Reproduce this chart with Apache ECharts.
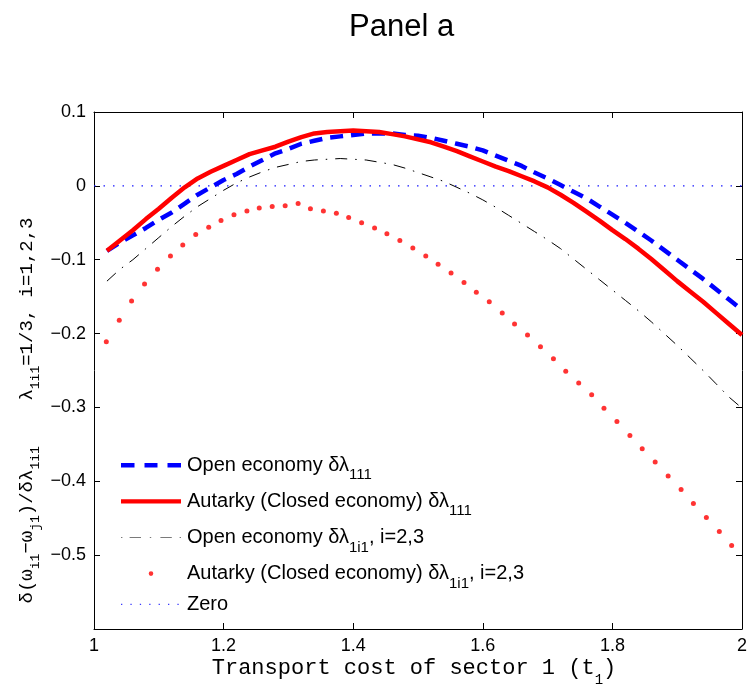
<!DOCTYPE html>
<html><head><meta charset="utf-8">
<script src="https://cdn.jsdelivr.net/npm/echarts@6/dist/echarts.min.js"></script>
<style>html,body{margin:0;padding:0;background:#fff}#c{width:748px;height:688px}</style>
</head><body><div id="c"></div><script>
// Transport cost grid for the line series
const xLine = [1.02,1.04,1.06,1.08,1.10,1.12,1.14,1.16,1.18,1.20,1.22,1.24,1.26,1.28,1.30,1.32,1.34,1.36,1.38,1.40,
  1.42,1.44,1.46,1.48,1.50,1.52,1.54,1.56,1.58,1.60,1.62,1.64,1.66,1.68,1.70,1.72,1.74,1.76,1.78,1.80,
  1.82,1.84,1.86,1.88,1.90,1.92,1.94,1.96,1.98,2.00];
// Open economy dλ111 (blue dashed)
const openOwn = [-0.088,-0.077,-0.067,-0.057,-0.046,-0.036,-0.024,-0.012,-0.002,0.008,0.016,0.026,0.035,0.044,0.050,0.057,0.061,0.065,0.067,0.069,
  0.071,0.071,0.071,0.069,0.068,0.065,0.061,0.057,0.053,0.048,0.041,0.034,0.027,0.018,0.010,0.001,-0.008,-0.017,-0.028,-0.039,
  -0.050,-0.062,-0.074,-0.087,-0.100,-0.113,-0.126,-0.140,-0.154,-0.168];
// Autarky dλ111 (red solid)
const autarkyOwn = [-0.088,-0.074,-0.060,-0.045,-0.031,-0.016,-0.002,0.010,0.019,0.027,0.035,0.043,0.048,0.053,0.060,0.066,0.071,0.073,0.074,0.075,
  0.074,0.073,0.070,0.067,0.063,0.059,0.053,0.047,0.040,0.033,0.026,0.020,0.013,0.006,-0.002,-0.012,-0.023,-0.035,-0.047,-0.060,
  -0.072,-0.085,-0.099,-0.114,-0.129,-0.143,-0.157,-0.172,-0.187,-0.202];
// Open economy dλ1i1, i=2,3 (black dash-dot)
const openOther = [-0.129,-0.113,-0.100,-0.085,-0.070,-0.055,-0.041,-0.028,-0.017,-0.006,0.004,0.012,0.019,0.025,0.029,0.033,0.035,0.036,0.037,0.036,
  0.035,0.032,0.029,0.024,0.018,0.012,0.006,-0.002,-0.010,-0.019,-0.029,-0.040,-0.051,-0.062,-0.073,-0.085,-0.099,-0.113,-0.127,-0.141,
  -0.155,-0.169,-0.184,-0.200,-0.216,-0.233,-0.250,-0.268,-0.286,-0.301];
// Autarky dλ1i1, i=2,3 (red dots) - own grid
const xDots = [1.019,1.039,1.058,1.078,1.098,1.118,1.137,1.157,1.177,1.196,1.216,1.236,1.255,1.275,1.295,1.315,1.334,1.354,1.374,1.393,
  1.413,1.433,1.452,1.472,1.492,1.512,1.531,1.551,1.571,1.590,1.610,1.630,1.649,1.669,1.689,1.709,1.728,1.748,1.768,1.787,
  1.807,1.827,1.846,1.866,1.886,1.906,1.925,1.945,1.965,1.984];
const autarkyOther = [-0.211,-0.182,-0.156,-0.133,-0.113,-0.095,-0.080,-0.066,-0.056,-0.047,-0.039,-0.034,-0.030,-0.028,-0.027,-0.024,-0.031,-0.034,-0.037,-0.043,
  -0.050,-0.057,-0.065,-0.074,-0.084,-0.095,-0.106,-0.118,-0.131,-0.144,-0.157,-0.172,-0.187,-0.202,-0.218,-0.234,-0.251,-0.267,-0.283,-0.301,
  -0.319,-0.338,-0.356,-0.374,-0.393,-0.411,-0.430,-0.449,-0.468,-0.487];
// Zero reference line
const zeroX = [1, 2];
const zeroY = [0, 0];

const seriesNames = ['Open economy δλ111', 'Autarky (Closed economy) δλ111', 'Open economy δλ1i1, i=2,3', 'Autarky (Closed economy) δλ1i1, i=2,3', 'Zero'];
const legendRich = {
  'Open economy δλ111': 'Open economy δλ{s|111}',
  'Autarky (Closed economy) δλ111': 'Autarky (Closed economy) δλ{s|111}',
  'Open economy δλ1i1, i=2,3': 'Open economy δλ{s|1i1}, i=2,3',
  'Autarky (Closed economy) δλ1i1, i=2,3': 'Autarky (Closed economy) δλ{s|1i1}, i=2,3',
  'Zero': 'Zero'
};
const titleText = 'Panel a';
const xName = 'Transport cost of sector 1 (t{s|1})';
const yName = 'δ(ω{s|i1}−ω{s|j1})/δλ{s|1i1}    λ{s|1i1}=1/3, i=1,2,3';

const SANS = '"Liberation Sans", Arial, Helvetica, sans-serif';
const MONO = '"Liberation Mono", "Courier New", monospace';
const pair = (xs, ys) => xs.map((x, i) => [x, ys[i]]);

const SPECK = 'M0,0h0.05v0.05h-0.05z M59.95,13.95h0.05v0.05h-0.05z ';
const icons = [
  'path://' + SPECK + 'M0,5h13.5v4.4h-13.5z M23.5,5h13v4.4h-13z M46.5,5h13.5v4.4h-13.5z',
  'path://' + SPECK + 'M0,5h60v4.4h-60z',
  'path://' + SPECK + 'M0,6.5h1.4v1h-1.4z M8.6,6.5h11.4v1h-11.4z M28.8,6.5h1.4v1h-1.4z M39.4,6.5h11.4v1h-11.4z M58.6,6.5h1.4v1h-1.4z',
  'path://' + SPECK + 'M32.3,7A2.3,2.3 0 1 1 27.7,7A2.3,2.3 0 1 1 32.3,7z',
  'path://' + SPECK + 'M0,6.4h1.3v1.3h-1.3z M9.4,6.4h1.3v1.3h-1.3z M18.8,6.4h1.3v1.3h-1.3z M28.2,6.4h1.3v1.3h-1.3z M37.6,6.4h1.3v1.3h-1.3z M47,6.4h1.3v1.3h-1.3z M56.4,6.4h1.3v1.3h-1.3z'
];

const fmtNum = v => {
  const s = String(+Math.abs(v).toFixed(1));
  return v < -1e-9 ? '\u2212' + s : s;
};

const axisCommon = {
  axisLine: { show: true, onZero: false, lineStyle: { color: '#000', width: 1 } },
  axisTick: { show: true, inside: true, length: 6, lineStyle: { color: '#000', width: 1 } },
  splitLine: { show: false }
};

const chart = echarts.init(document.getElementById('c'));
chart.setOption({
  animation: false,
  backgroundColor: '#fff',
  title: {
    text: titleText, left: 349, top: 11.5, padding: 0,
    textStyle: { fontFamily: SANS, fontSize: 31, fontWeight: 'normal', color: '#000' }
  },
  grid: { left: 94, right: 6, top: 112, bottom: 59, containLabel: false, outerBoundsMode: 'none' },
  legend: {
    orient: 'vertical', left: 121, top: 447.5, padding: 0,
    itemWidth: 60, itemHeight: 14, itemGap: 1.2,
    selectedMode: false,
    itemStyle: { borderWidth: 0 },
    data: seriesNames.map((n, i) => ({ name: n, icon: icons[i], itemStyle: i === 2 ? { color: '#7a7a7a' } : (i === 4 ? { color: '#3a3aff' } : undefined) })),
    formatter: n => legendRich[n],
    textStyle: {
      fontFamily: SANS, fontSize: 20, color: '#000', lineHeight: 24, padding: [0, 0, 0, 1],
      rich: { s: { fontFamily: SANS, fontSize: 15, lineHeight: 24, padding: [20, 0, 0, 0], color: '#000' } }
    }
  },
  xAxis: [
    Object.assign({}, axisCommon, {
      type: 'value', position: 'bottom', min: 1, max: 2, interval: 0.2,
      axisLabel: { margin: 8, color: '#000', fontFamily: SANS, fontSize: 18, formatter: fmtNum },
      name: xName, nameLocation: 'middle', nameGap: 27, nameMoveOverlap: false,
      nameTextStyle: {
        fontFamily: MONO, fontSize: 22, color: '#000', lineHeight: 24, padding: [0, 8, 0, 0],
        rich: { s: { fontFamily: MONO, fontSize: 14, lineHeight: 24, padding: [24, 0, 0, 0], color: '#000' } }
      }
    }),
    Object.assign({}, axisCommon, {
      type: 'value', position: 'top', min: 1, max: 2, interval: 0.2,
      axisLabel: { show: false }
    })
  ],
  yAxis: [
    Object.assign({}, axisCommon, {
      type: 'value', position: 'left', min: -0.6, max: 0.1, interval: 0.1,
      axisLabel: { margin: 8, color: '#000', fontFamily: SANS, fontSize: 18,
        formatter: v => (Math.abs(v + 0.6) < 1e-6 ? '' : fmtNum(v)) },
      name: yName, nameLocation: 'middle', nameRotate: 90, nameGap: 56, nameMoveOverlap: false,
      nameTextStyle: {
        fontFamily: MONO, fontSize: 19, color: '#000', lineHeight: 22, padding: [0, 80, 0, 0],
        rich: { s: { fontFamily: MONO, fontSize: 13, lineHeight: 22, padding: [18, 0, 0, 0], color: '#000' } }
      }
    }),
    Object.assign({}, axisCommon, {
      type: 'value', position: 'right', min: -0.6, max: 0.1, interval: 0.1,
      axisLabel: { show: false }
    })
  ],
  series: [
    { name: seriesNames[0], type: 'line', xAxisIndex: 0, yAxisIndex: 0, data: pair(xLine, openOwn),
      symbol: 'none', color: '#0000ff', lineStyle: { color: '#0000ff', width: 4.5, type: [13, 8] }, z: 3 },
    { name: seriesNames[1], type: 'line', xAxisIndex: 0, yAxisIndex: 0, data: pair(xLine, autarkyOwn),
      symbol: 'none', color: '#ff0000', lineStyle: { color: '#ff0000', width: 4.5 }, z: 4 },
    { name: seriesNames[2], type: 'line', xAxisIndex: 0, yAxisIndex: 0, data: pair(xLine, openOther),
      symbol: 'none', color: '#000000', lineStyle: { color: '#000000', width: 1, type: [12, 8, 1.5, 8] }, z: 5 },
    { name: seriesNames[3], type: 'scatter', xAxisIndex: 0, yAxisIndex: 0, data: pair(xDots, autarkyOther),
      symbol: 'circle', symbolSize: 5, color: '#ff0000', itemStyle: { color: '#ff0000' }, z: 6 },
    { name: seriesNames[4], type: 'line', xAxisIndex: 0, yAxisIndex: 0, data: pair(zeroX, zeroY),
      symbol: 'none', color: '#1a1aff', lineStyle: { color: '#1a1aff', width: 1.2, type: [1.5, 8] }, z: 2 }
  ]
});
</script></body></html>
